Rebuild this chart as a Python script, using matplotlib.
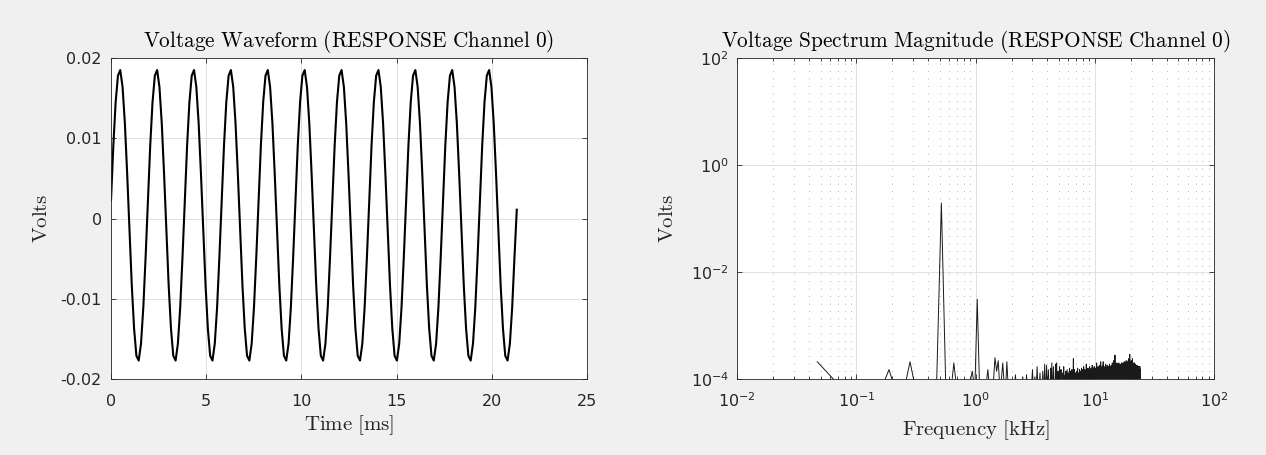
## voltage waveform + spectrum, MATLAB-style figure
import numpy as np
import matplotlib.pyplot as plt
from matplotlib.ticker import LogLocator, NullLocator, NullFormatter

plt.rcParams['axes.unicode_minus'] = False

#waveform, 16 samples per cycle (Volts)
t_end = 21.31  # ms, last sample
wave = [
    0.0023, 0.0091, 0.0145, 0.0178, 0.0185, 0.0164, 0.0119, 0.0056, -0.0015, -0.0083, -0.0137, -0.0171, -0.0177, -0.0156, -0.0111, -0.0048,
    0.0023, 0.0091, 0.0145, 0.0178, 0.0185, 0.0164, 0.0119, 0.0056, -0.0015, -0.0083, -0.0137, -0.0171, -0.0177, -0.0156, -0.0111, -0.0048,
    0.0023, 0.0091, 0.0145, 0.0178, 0.0185, 0.0164, 0.0119, 0.0056, -0.0015, -0.0083, -0.0137, -0.0171, -0.0177, -0.0156, -0.0111, -0.0048,
    0.0023, 0.0091, 0.0145, 0.0178, 0.0185, 0.0164, 0.0119, 0.0056, -0.0015, -0.0083, -0.0137, -0.0171, -0.0177, -0.0156, -0.0111, -0.0048,
    0.0023, 0.0091, 0.0145, 0.0178, 0.0185, 0.0164, 0.0119, 0.0056, -0.0015, -0.0083, -0.0137, -0.0171, -0.0177, -0.0156, -0.0111, -0.0048,
    0.0023, 0.0091, 0.0145, 0.0178, 0.0185, 0.0164, 0.0119, 0.0056, -0.0015, -0.0083, -0.0137, -0.0171, -0.0177, -0.0156, -0.0111, -0.0048,
    0.0023, 0.0091, 0.0145, 0.0178, 0.0185, 0.0164, 0.0119, 0.0056, -0.0015, -0.0083, -0.0137, -0.0171, -0.0177, -0.0156, -0.0111, -0.0048,
    0.0023, 0.0091, 0.0145, 0.0178, 0.0185, 0.0164, 0.0119, 0.0056, -0.0015, -0.0083, -0.0137, -0.0171, -0.0177, -0.0156, -0.0111, -0.0048,
    0.0023, 0.0091, 0.0145, 0.0178, 0.0185, 0.0164, 0.0119, 0.0056, -0.0015, -0.0083, -0.0137, -0.0171, -0.0177, -0.0156, -0.0111, -0.0048,
    0.0023, 0.0091, 0.0145, 0.0178, 0.0185, 0.0164, 0.0119, 0.0056, -0.0015, -0.0083, -0.0137, -0.0171, -0.0177, -0.0156, -0.0111, -0.0048,
    0.0023, 0.0091, 0.0145, 0.0178, 0.0185, 0.0164, 0.0119, 0.0056, -0.0015, -0.0083, -0.0137, -0.0171, -0.0177, -0.0156, -0.0111, -0.0048,
    0.0011,
]
time_ticks = [0, 5, 10, 15, 20, 25]
volt_ticks = [-0.02, -0.01, 0, 0.01, 0.02]
volt_labels = ['-0.02', '-0.01', '0', '0.01', '0.02']

#spectrum magnitude, one value per FFT bin (bin spacing 46.875 Hz), in units of 1e-5 V
df = 0.046875  # kHz
spec_low = [  # bins 1-42
    21, 4, 3, 15, 3, 21, 4, 3, 5, 6,
    19500, 6, 4, 20, 5, 4, 3, 5, 8, 14,
    6, 310, 7, 5, 4, 7, 15, 6, 5, 8,
    25, 14, 22, 7, 9, 20, 8, 6, 21, 7,
    9, 8,
]
spec_high = [  # bins 43-512
    6, 8, 5, 12, 6, 7, 5, 8, 6, 7,
    11, 6, 7, 5, 12, 6, 8, 5, 7, 6,
    8, 15, 6, 7, 11, 5, 8, 17, 7, 6,
    8, 13, 6, 7, 5, 14, 7, 8, 19, 6,
    7, 18, 8, 6, 15, 7, 9, 5, 16, 7,
    20, 6, 8, 17, 7, 9, 6, 19, 8, 20,
    7, 6, 14, 8, 9, 17, 6, 8, 15, 7,
    9, 6, 13, 8, 17, 7, 9, 12, 6, 14,
    8, 7, 15, 9, 6, 13, 8, 10, 16, 7,
    9, 14, 6, 8, 15, 7, 12, 9, 24, 7,
    8, 15, 9, 6, 13, 8, 11, 14, 7, 9,
    16, 8, 10, 13, 7, 9, 15, 8, 11, 14,
    7, 9, 16, 8, 12, 10, 15, 7, 9, 17,
    8, 12, 10, 15, 7, 9, 14, 8, 19, 9,
    11, 15, 8, 10, 16, 9, 12, 14, 8, 10,
    17, 9, 11, 15, 8, 10, 16, 9, 13, 8,
    18, 10, 13, 8, 16, 9, 14, 8, 17, 10,
    13, 8, 15, 9, 16, 10, 14, 8, 20, 9,
    15, 10, 13, 8, 17, 9, 14, 10, 16, 8,
    18, 9, 15, 10, 14, 8, 21, 9, 16, 10,
    13, 8, 17, 10, 15, 9, 18, 8, 21, 10,
    14, 9, 16, 8, 15, 10, 17, 9, 14, 8,
    19, 10, 15, 9, 16, 8, 14, 10, 18, 9,
    15, 8, 16, 10, 14, 9, 17, 8, 15, 10,
    19, 9, 16, 10, 15, 8, 17, 9, 14, 10,
    18, 8, 16, 10, 15, 9, 20, 10, 14, 8,
    17, 9, 16, 10, 22, 8, 15, 10, 18, 9,
    16, 10, 28, 9, 17, 8, 19, 10, 16, 9,
    18, 10, 15, 8, 20, 9, 17, 10, 16, 8,
    19, 9, 17, 10, 15, 8, 20, 10, 16, 9,
    18, 10, 17, 8, 19, 9, 16, 10, 18, 9,
    17, 8, 19, 10, 16, 20, 9, 17, 10, 18,
    16, 9, 19, 10, 17, 8, 20, 9, 16, 10,
    18, 9, 17, 10, 21, 8, 16, 10, 19, 9,
    17, 10, 20, 8, 18, 9, 16, 10, 22, 9,
    18, 10, 17, 8, 21, 9, 19, 10, 16, 9,
    20, 10, 18, 8, 22, 9, 17, 10, 24, 9,
    19, 10, 18, 8, 21, 9, 29, 10, 18, 9,
    20, 10, 19, 8, 20, 9, 17, 10, 22, 9,
    18, 10, 20, 8, 17, 9, 21, 10, 24, 9,
    19, 10, 17, 8, 20, 9, 18, 10, 17, 9,
    19, 10, 18, 8, 17, 9, 20, 10, 16, 9,
    18, 10, 17, 8, 19, 9, 16, 10, 18, 9,
    17, 10, 18, 8, 16, 9, 17, 10, 16, 9,
    18, 10, 16, 8, 17, 9, 16, 10, 17, 9,
    16, 10, 17, 8, 16, 9, 17, 10, 15, 9,
    16, 10, 17, 8, 16, 9, 15, 10, 16, 17,
]

#derived arrays
t = np.linspace(0, t_end, len(wave))
spec = np.array(spec_low + spec_high) * 1e-5
freq = df * np.arange(1, len(spec) + 1)

txt = '#262626'
fig = plt.figure(figsize=(12.66, 4.55), dpi=100, facecolor='#f0f0f0')
ax1 = fig.add_axes([0.0877, 0.1670, 0.3760, 0.7055])
ax2 = fig.add_axes([0.5824, 0.1670, 0.3765, 0.7055])

for ax in (ax1, ax2):
    ax.set_facecolor('white')
    ax.set_axisbelow(True)
    for s in ax.spines.values():
        s.set_color(txt)
        s.set_linewidth(0.6)
    ax.tick_params(which='both', direction='in', top=True, right=True,
                   colors=txt, labelsize=11.5, width=0.6)
    ax.tick_params(which='major', length=3.5)
    ax.tick_params(which='minor', length=2)
    ax.grid(True, which='major', color='#dcdcdc', lw=0.6)

#left: waveform
ax1.plot(t, wave, color='black', lw=1.5)
ax1.set_xlim(0, 25)
ax1.set_ylim(-0.02, 0.02)
ax1.set_xticks(time_ticks)
ax1.set_yticks(volt_ticks, labels=volt_labels)
ax1.tick_params(axis='x', pad=11)
ax1.tick_params(axis='y', pad=6.7)
ax1.set_title(r'$\mathrm{Voltage\ Waveform\ (RESPONSE\ Channel\ 0)}$',
              fontsize=15.3, pad=8, math_fontfamily='cm', color='black')
ax1.set_xlabel(r'$\mathrm{Time\ [ms]}$', fontsize=15, labelpad=3, math_fontfamily='cm', color=txt)
ax1.set_ylabel(r'$\mathrm{Volts}$', fontsize=15, labelpad=7, math_fontfamily='cm', color=txt)

#right: spectrum
ax2.plot(freq, spec, color='#1a1a1a', lw=0.7)
ax2.set_xscale('log')
ax2.set_yscale('log')
ax2.set_xlim(1e-2, 1e2)
ax2.set_ylim(1e-4, 1e2)
ax2.set_yticks([1e-4, 1e-2, 1e0, 1e2])
ax2.yaxis.set_minor_locator(NullLocator())
ax2.xaxis.set_minor_locator(LogLocator(base=10, subs=np.arange(2, 10), numticks=20))
ax2.xaxis.set_minor_formatter(NullFormatter())
ax2.grid(True, which='minor', axis='x', color='#9a9a9a', lw=0.6, linestyle=(0, (1, 8)))
ax2.tick_params(axis='x', pad=9)
ax2.tick_params(axis='y', pad=6)
ax2.set_title(r'$\mathrm{Voltage\ Spectrum\ Magnitude\ (RESPONSE\ Channel\ 0)}$',
              fontsize=15.3, pad=8, math_fontfamily='cm', color='black')
ax2.set_xlabel(r'$\mathrm{Frequency\ [kHz]}$', fontsize=15, labelpad=6, math_fontfamily='cm', color=txt)
ax2.set_ylabel(r'$\mathrm{Volts}$', fontsize=15, labelpad=9.5, math_fontfamily='cm', color=txt)

fig.savefig('out.png', dpi=100, facecolor=fig.get_facecolor())
